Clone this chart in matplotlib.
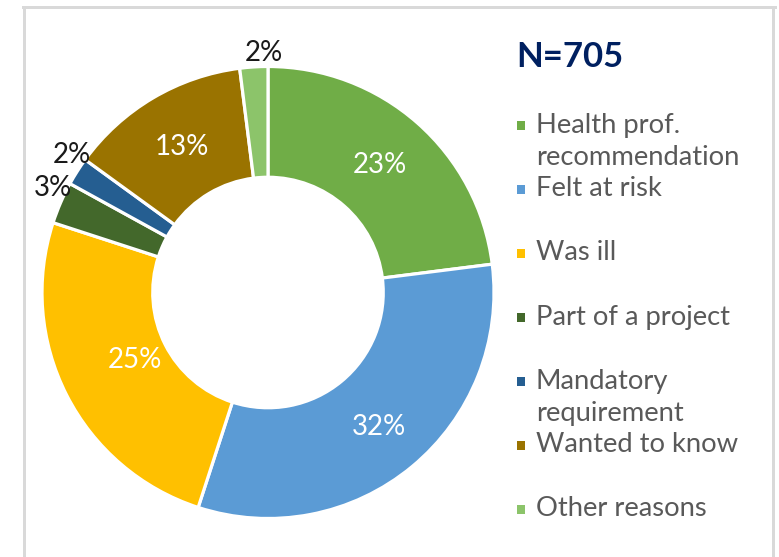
import matplotlib
matplotlib.use("Agg")
import matplotlib.pyplot as plt
from matplotlib.lines import Line2D
from matplotlib.patches import Rectangle
import numpy as np

# ---------------- data ----------------
categories = ["Health prof.\nrecommendation", "Felt at risk", "Was ill",
              "Part of a project", "Mandatory\nrequirement", "Wanted to know",
              "Other reasons"]
values = [23, 32, 25, 3, 2, 13, 2]
title = "N=705"

# ---------------- style ----------------
colors = ["#70AD47", "#5B9BD5", "#FFC000", "#43682B", "#255E91", "#9A7300", "#8CC46A"]
inner_dist = [0.75, 0.77, 0.66, 0.75, 0.75, 0.75, 0.75]
plt.rcParams['font.family'] = ['Lato', 'DejaVu Sans']

W, H = 779, 557
fig = plt.figure(figsize=(W / 100, H / 100), dpi=100)
fig.patch.set_facecolor("white")

# overlay axes in pixel coordinates
ov = fig.add_axes([0, 0, 1, 1])
ov.set_xlim(0, W)
ov.set_ylim(H, 0)
ov.axis('off')

frame_c = "#D9D9D9"
lw = 3 * 72 / 100
ov.add_line(Line2D([24.5, 24.5], [6.5, H], color=frame_c, lw=lw))
ov.add_line(Line2D([23, 775], [6.5, 6.5], color=frame_c, lw=lw))
ov.add_line(Line2D([773.5, 773.5], [6.5, H], color=frame_c, lw=lw))

# ---------------- donut ----------------
cx, cy, R = 268, 292.5, 226
ax = fig.add_axes([(cx - R) / W, (H - cy - R) / H, 2 * R / W, 2 * R / H])
wedges, _ = ax.pie(values, colors=colors, startangle=90, counterclock=False,
                   radius=1.0,
                   wedgeprops=dict(width=0.49, edgecolor='white', linewidth=2.3))
ax.set_xlim(-1, 1)
ax.set_ylim(-1, 1)

total = float(sum(values))
cum = np.cumsum([0] + values[:-1])
for i, v in enumerate(values):
    mid_deg = 90 - 360 * (cum[i] + v / 2) / total
    if v >= 5:
        mid = np.deg2rad(mid_deg)
        d = inner_dist[i]
        ax.text(d * np.cos(mid), d * np.sin(mid), f"{v}%", color="white",
                fontsize=20, ha='center', va='center', family=['Lato'])
    else:
        mid = np.deg2rad(mid_deg - 2.5)
        d = 1.06
        ax.text(d * np.cos(mid), d * np.sin(mid), f"{v}%", color="#1A1A1A",
                fontsize=20, ha='center', va='center', clip_on=False,
                family=['Lato'])

# ---------------- title & legend ----------------
ov.text(516, 57, title, color="#002060", fontsize=25, fontweight='bold',
        ha='left', va='center')

y0, step, line_h = 125, 64, 32.5
for i, (lab, c) in enumerate(zip(categories, colors)):
    y = y0 + i * step
    ov.add_patch(Rectangle((517, y - 4), 8.5, 8.5, facecolor=c, edgecolor='none'))
    for j, line in enumerate(lab.split("\n")):
        ov.text(536, y + j * line_h, line, color="#595959", fontsize=19.7,
                ha='left', va='center')

fig.savefig("out.png", dpi=100, facecolor="white")
